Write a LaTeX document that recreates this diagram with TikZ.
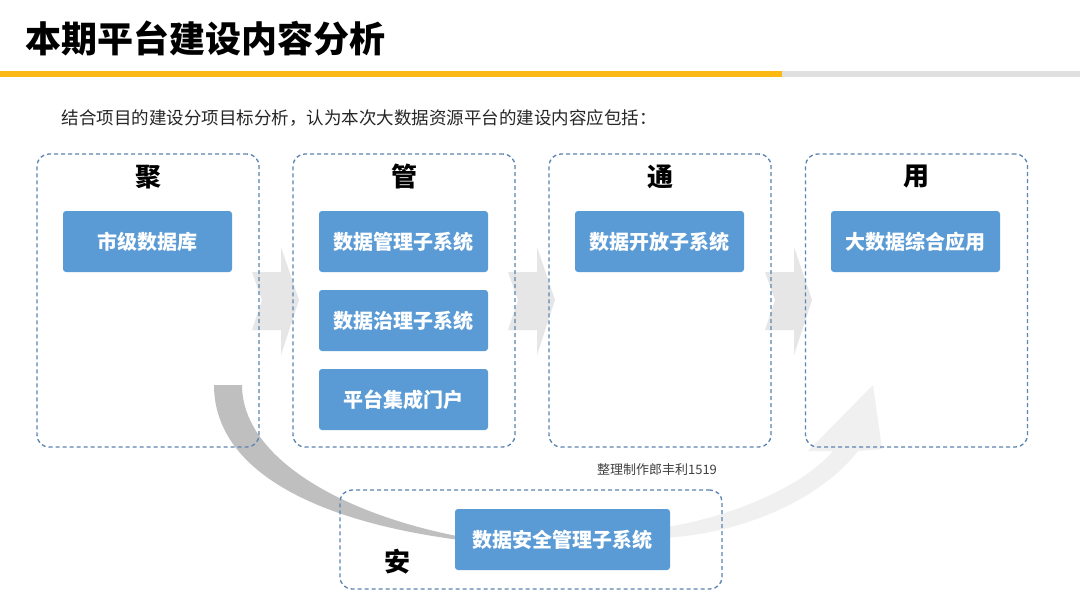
\documentclass[tikz,border=0pt]{standalone}
\usepackage{fontspec}
\setmainfont{Noto Sans CJK SC}
\usepackage{tikz}
\definecolor{barYellow}{RGB}{253,185,19}
\definecolor{barGrey}{RGB}{224,224,224}
\definecolor{boxBlue}{RGB}{91,155,213}
\definecolor{dashBlue}{RGB}{92,132,178}
\definecolor{chevGrey}{RGB}{230,230,230}
\definecolor{darkArc}{RGB}{191,191,191}
\definecolor{lightArc}{RGB}{240,240,240}

\begin{document}
\begin{tikzpicture}[x=1pt, y=-1pt,
	group/.style={draw=dashBlue, line width=1.3pt, dash pattern=on 4pt off 3pt, rounded corners=12pt, minimum width=222pt, minimum height=293pt, inner sep=0pt},
	sub/.style={fill=boxBlue, rounded corners=3pt, minimum width=169pt, minimum height=61pt, inner sep=0pt, text=white, font=\fontsize{20}{24}\selectfont\bfseries},
	head/.style={font=\fontsize{26}{30}\selectfont\bfseries}]

	\useasboundingbox[fill=white] (0,0) rectangle (1080,608);

	% Title and bar
	\node[anchor=west, font=\fontsize{36}{40}\selectfont\bfseries] (title) at (22,38) {本期平台建设内容分析};
	\fill[barYellow] (0,71) rectangle (782,77);
	\fill[barGrey] (782,71) rectangle (1080,77);
	\node[anchor=west, font=\fontsize{17.5}{20}\selectfont, text=black!85] (intro) at (58,118) {结合项目的建设分项目标分析，认为本次大数据资源平台的建设内容应包括：};

	% Chevrons
	\foreach \x in {252,508,765} {
		\fill[chevGrey] (\x,272) -- (\x+29,272) -- (\x+29,247) -- (\x+47,300) -- (\x+29,355) -- (\x+29,330) -- (\x,330) -- (\x+10,300) -- cycle;
	}

	% Curved arrows
	\fill[darkArc] (214,385) .. controls (214,480) and (340,537) .. (540,547) .. controls (380,536) and (242,470) .. (242,385) -- cycle;
	\fill[lightArc] (660,528) .. controls (720,520) and (800,490) .. (833,451) -- (808,451) -- (873,385) -- (882,449) -- (858,451) .. controls (820,500) and (740,535) .. (660,538) -- cycle;

	% Groups
	\node[group] (ju) at (148,300.5) {};
	\node[group] (guan) at (404,300.5) {};
	\node[group] (tong) at (660,300.5) {};
	\node[group] (yong) at (916.5,300.5) {};
	\node[group, minimum width=382pt, minimum height=99pt] (an) at (531,539.5) {};

	\node[head] (juT) at (148,177) {聚};
	\node[head] (guanT) at (404,177) {管};
	\node[head] (tongT) at (660,177) {通};
	\node[head] (yongT) at (916,177) {用};
	\node[head] (anT) at (397,562) {安};

	% Subsystems
	\node[sub] (db) at (147.5,241.5) {市级数据库};
	\node[sub] (mgmt) at (403.5,241.5) {数据管理子系统};
	\node[sub] (gov) at (403.5,320.5) {数据治理子系统};
	\node[sub] (portal) at (403.5,399.5) {平台集成门户};
	\node[sub] (open) at (659.5,241.5) {数据开放子系统};
	\node[sub] (app) at (915.5,241.5) {大数据综合应用};
	\node[sub, minimum width=215pt] (sec) at (562.5,539.5) {数据安全管理子系统};

	\node[font=\fontsize{13}{15}\selectfont, text=black!75] (mark) at (657,470) {整理制作郎丰利1519};

\end{tikzpicture}
\end{document}
